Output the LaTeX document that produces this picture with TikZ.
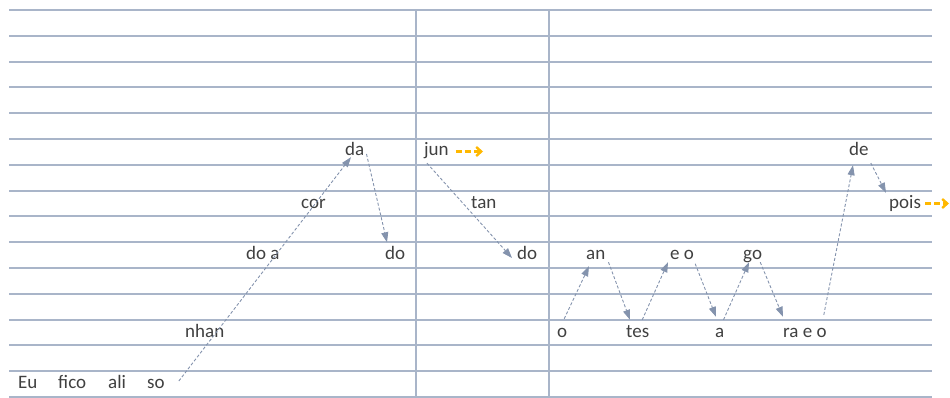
\documentclass[tikz,border=0pt]{standalone}
\usepackage{fontspec}
\setmainfont{Carlito}
\usepackage{tikz}
\usetikzlibrary{arrows.meta}
\definecolor{colorRule}{HTML}{A9B5C9}
\definecolor{colorLink}{HTML}{8493AD}
\definecolor{colorNext}{HTML}{FFB800}
\definecolor{colorSyl}{HTML}{404040}
\tikzset{
  syl/.style={anchor=base west, inner sep=0pt, text height=13pt, text depth=4pt, text=colorSyl, font=\fontsize{19}{22}\selectfont},
  link/.style={->, colorLink, densely dashed, line width=0.9pt},
  next/.style={-{Straight Barb[length=5pt,width=9pt]}, colorNext, dash pattern=on 6pt off 3pt, line width=2.4pt},
}

\begin{document}
\begin{tikzpicture}[x=1pt, y=-1pt, >={Triangle[length=10pt,width=7pt]}]
\useasboundingbox (0,0) rectangle (950,398);
% staff
\foreach \k in {0,...,15} \draw[colorRule, line width=2pt] (9,{10+25.8*\k}) -- (932,{10+25.8*\k});
\draw[colorRule, line width=2pt] (416,10) -- (416,397);
\draw[colorRule, line width=2pt] (549,10) -- (549,397);
% syllables
\node[syl] (eu) at (18,388.5) {Eu};
\node[syl] (fico) at (58,388.5) {fico};
\node[syl] (ali) at (108,388.5) {ali};
\node[syl] (so) at (147,388.5) {so};
\node[syl] (nhan) at (185,337) {nhan};
\node[syl] (doa) at (246,259.5) {do a};
\node[syl] (cor) at (301,208) {cor};
\node[syl] (da) at (345,156) {da};
\node[syl] (doL) at (385,259.5) {do};
\node[syl] (jun) at (424,156) {jun};
\node[syl] (tan) at (471,208) {tan};
\node[syl] (doM) at (517,259.5) {do};
\node[syl] (o) at (557,337) {o};
\node[syl] (an) at (586,259.5) {an};
\node[syl] (tes) at (626,337) {tes};
\node[syl] (eo) at (670,259.5) {e o};
\node[syl] (a) at (715,337) {a};
\node[syl] (go) at (743,259.5) {go};
\node[syl] (raeo) at (783,337) {ra e o};
\node[syl] (de) at (849,156) {de};
\node[syl] (pois) at (889,208) {pois};
\coordinate (junnext) at (483,151.5);
\coordinate (poisnext) at (949,203.5);
% links
\draw[link] ([shift={(14,-3)}]so.east) -- ([shift={(6,-3)}]da.south west);
\draw[link] ([shift={(2,2.5)}]da.east) -- ([shift={(2,-4)}]doL.north west);
\draw[link] ([shift={(3,3)}]jun.south west) -- ([shift={(-5,3)}]doM.west);
\draw[link] ([shift={(2,-5)}]o.north) -- ([shift={(3,2.5)}]an.south west);
\draw[link] ([shift={(3,-1.5)}]an.south east) -- ([shift={(4,-4)}]tes.north west);
\draw[link] ([shift={(4.5,-4)}]tes.north) -- ([shift={(-2,-1.5)}]eo.south west);
\draw[link] ([shift={(1,0)}]eo.south east) -- ([shift={(1,-7)}]a.north west);
\draw[link] ([shift={(-1,-4)}]a.north east) -- ([shift={(6,-1.5)}]go.south west);
\draw[link] ([shift={(-2,-1.5)}]go.south east) -- ([shift={(0,-7)}]raeo.north west);
\draw[link] ([shift={(-3,-9)}]raeo.north east) -- ([shift={(4,5)}]de.south west);
\draw[link] ([shift={(2,3)}]de.south east) -- ([shift={(-3,-2)}]pois.north west);
\draw[next] ([xshift=7pt]jun.east) -- (junnext);
\draw[next] ([xshift=4pt]pois.east) -- (poisnext);
\end{tikzpicture}
\end{document}
